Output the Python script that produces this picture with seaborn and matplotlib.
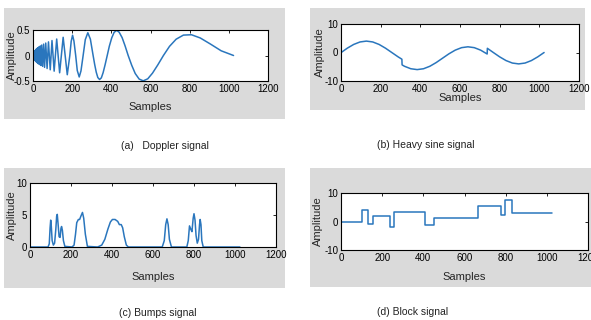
import pandas as pd
import seaborn as sns
import matplotlib.pyplot as plt
from matplotlib.patches import Rectangle

sns.set_style("white")
plt.rcParams['font.family'] = ['Liberation Sans Narrow', 'Liberation Sans', 'DejaVu Sans']

# ---- data (sample index, amplitude) ----
doppler_x = [1, 4, 5, 7, 8, 10, 11, 13, 15, 17, 19, 22, 24, 27, 30, 33, 37, 40, 44, 49,
             54, 59, 65, 72, 79, 88, 97, 108, 121, 136, 154, 175, 188, 195, 202, 209, 218,
             226, 236, 245, 256, 267, 280, 293, 307, 315, 323, 331, 340, 349, 358, 368, 379,
             390, 402, 414, 427, 440, 455, 470, 486, 504, 522, 542, 563, 586, 610, 637, 666,
             697, 731, 768, 809, 854, 905, 961, 1024]
doppler_y = [0, -0.04, 0.05, -0.07, 0.08, -0.09, 0.10, -0.112, 0.120, -0.128, 0.136, -0.144,
             0.152, -0.160, 0.169, -0.177, 0.186, -0.195, 0.204, -0.213,
             0.223, -0.233, 0.244, -0.255, 0.267, -0.280, 0.293, -0.307, 0.323, -0.339, 0.357,
             -0.377, 0, 0.277, 0.398, 0.285, 0,
             -0.293, -0.421, -0.302, 0, 0.311, 0.446, 0.320, 0, -0.177, -0.328, -0.432, -0.471,
             -0.438, -0.337, -0.184, 0,
             0.186, 0.345, 0.453, 0.493, 0.457, 0.351, 0.191, 0, -0.191, -0.353, -0.462, -0.497,
             -0.457, -0.347, -0.186, 0,
             0.179, 0.320, 0.400, 0.407, 0.344, 0.227, 0.092, 0]

heavy_x = [1, 32, 64, 96, 128, 160, 192, 224, 256, 288, 307, 308, 320, 352, 384, 416, 448, 480,
           512, 544, 576, 608, 640, 672, 704, 737, 738, 768, 800, 832, 864, 896, 928, 960, 992, 1024]
heavy_y = [0, 1.53, 2.83, 3.70, 4.0, 3.70, 2.83, 1.53, 0, -1.53, -2.35, -4.35, -4.83, -5.70, -6.0,
           -5.70, -4.83, -3.53, -2.0, -0.47, 0.83, 1.70, 2.0, 1.70, 0.83, -0.53, 1.47, 0, -1.53,
           -2.83, -3.70, -4.0, -3.70, -2.83, -1.53, 0]

bumps_x = [1, 88, 94, 98, 101, 104, 108, 114, 120, 126, 130, 133, 137, 142, 147, 151, 154, 158,
           163, 170, 205, 215, 222, 228, 236, 242, 248, 256, 262, 270, 280, 330, 350, 365, 380,
           392, 402, 415, 428, 436, 445, 452, 460, 470, 480, 645, 655, 662, 668, 674, 680, 690,
           765, 772, 778, 784, 790, 796, 800, 805, 810, 816, 822, 827, 830, 834, 838, 845, 1024]
bumps_y = [0, 0, 0.5, 3.0, 4.2, 3.2, 1.0, 0.3, 0.6, 2.8, 4.8, 5.1, 3.6, 1.6, 1.5, 2.9, 3.2, 2.6,
           1.0, 0.1, 0, 0.3, 2.0, 3.8, 4.3, 4.3, 4.8, 5.4, 4.5, 2.0, 0.1, 0, 0.3, 1.2, 2.8,
           3.9, 4.3, 4.3, 4.0, 3.5, 3.5, 3.0, 1.6, 0.3, 0, 0, 1.0, 3.5, 4.4, 3.5, 1.2, 0,
           0, 1.0, 3.3, 2.8, 2.4, 4.5, 5.2, 4.2, 1.8, 0.6, 1.2, 3.5, 4.3, 3.5, 1.0, 0, 0]

block_edges = [1, 102, 133, 154, 236, 256, 410, 451, 666, 778, 799, 829, 1024]
block_levels = [0, 4.1, -0.9, 2.1, -2.0, 3.2, -1.2, 1.1, 5.3, 2.2, 7.4, 3.1, 3.1]

captions = ["(a)   Doppler signal", "(b) Heavy sine signal", "(c) Bumps signal", "(d) Block signal"]
x_ticks = [0, 200, 400, 600, 800, 1000, 1200]

LINE = "#2a76bd"
GRAY = "#dadada"
W, H = 591, 320

fig = plt.figure(figsize=(W / 100, H / 100), dpi=100)


def px_rect(x0, y0, x1, y1):
    # pixel box (top-left origin) -> figure fraction [left, bottom, width, height]
    return [x0 / W, 1 - y1 / H, (x1 - x0) / W, (y1 - y0) / H]


panels = [
    dict(x=doppler_x, y=doppler_y, gray=(4, 8, 285, 119), box=(33, 30, 268, 81),
         ylim=(-0.5, 0.5), yticks=[-0.5, 0, 0.5], ylab=-0.089, xlab=-0.51, cap=(165, 146), step=False),
    dict(x=heavy_x, y=heavy_y, gray=(310, 8, 585, 110), box=(341, 24, 579, 81),
         ylim=(-10, 10), yticks=[-10, 0, 10], ylab=-0.087, xlab=-0.30, cap=(426, 145), step=False),
    dict(x=bumps_x, y=bumps_y, gray=(4, 168, 285, 288), box=(30, 183, 276, 247),
         ylim=(0, 10), yticks=[0, 5, 10], ylab=-0.073, xlab=-0.47, cap=(158, 313), step=False),
    dict(x=block_edges, y=block_levels, gray=(310, 168, 591, 287), box=(341, 193, 588, 250),
         ylim=(-10, 10), yticks=[-10, 0, 10], ylab=-0.093, xlab=-0.47, cap=(413, 312), step=True),
]

for p, cap in zip(panels, captions):
    g = px_rect(*p["gray"])
    fig.patches.append(Rectangle(g[:2], g[2], g[3], transform=fig.transFigure,
                                 facecolor=GRAY, edgecolor="none", zorder=-10))
    ax = fig.add_axes(px_rect(*p["box"]))
    ax.set_zorder(1)
    ax.set_facecolor("white")
    df = pd.DataFrame({"Samples": p["x"], "Amplitude": p["y"]})
    sns.lineplot(data=df, x="Samples", y="Amplitude", ax=ax, color=LINE, linewidth=1.1,
                 estimator=None, sort=False,
                 drawstyle="steps-post" if p["step"] else "default")
    ax.set_xlim(0, 1200)
    ax.set_ylim(*p["ylim"])
    ax.set_xticks(x_ticks)
    ax.set_yticks(p["yticks"])
    ax.set_yticklabels([f"{v:g}" for v in p["yticks"]])
    ax.tick_params(direction="in", top=True, right=True, length=2.5, width=0.6,
                   labelsize=7, pad=2, colors="black")
    for s in ax.spines.values():
        s.set_color("black")
        s.set_linewidth(0.8)
    ax.set_xlabel("Samples", fontsize=8)
    ax.set_ylabel("Amplitude", fontsize=8)
    ax.xaxis.label.set_va("center")
    ax.yaxis.label.set_va("center")
    ax.xaxis.set_label_coords(0.5, p["xlab"])
    ax.yaxis.set_label_coords(p["ylab"], 0.5)
    fig.text(p["cap"][0] / W, 1 - p["cap"][1] / H, cap, ha="center", va="center",
             fontsize=7.5, color="#222222")

fig.savefig("out.png", dpi=100)
